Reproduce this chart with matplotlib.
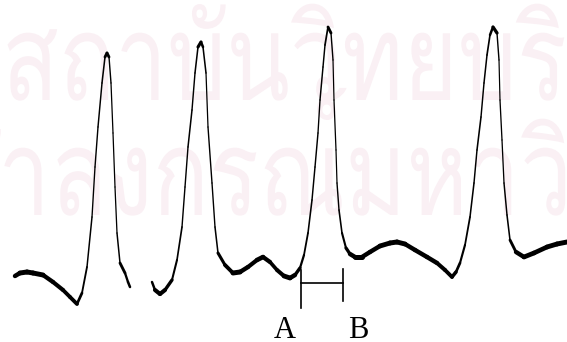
import numpy as np
import matplotlib.pyplot as plt
from matplotlib.collections import LineCollection
from matplotlib import font_manager
from matplotlib.font_manager import FontProperties
from matplotlib.ft2font import FT2Font
from matplotlib.textpath import TextPath
from matplotlib.patches import PathPatch
from matplotlib.transforms import Affine2D

# pulse trace, digitised in image pixels (x right, y down)
x1 = [15, 20, 27, 33, 43, 53, 63, 70, 77, 82, 87, 92, 95, 98, 102, 105, 107,
      109, 111, 113, 115, 117, 120, 125, 128, 130]
y1 = [276, 273, 272, 273, 275, 282, 290, 297, 304, 293, 267, 217, 167, 127, 83,
      57, 53, 57, 83, 133, 187, 233, 263, 273, 282, 287]

x2 = [152, 155, 160, 165, 172, 177, 182, 185, 188, 192, 195, 198, 201, 203, 206,
      208, 212, 215, 218, 225, 233, 240, 248, 257, 263, 270, 277, 284, 290, 295,
      300, 304, 308, 312, 315, 318, 320, 323, 325, 328, 331, 333, 334, 336, 337,
      339, 342, 346, 350, 355, 362, 370, 380, 390, 397, 405, 415, 427, 437, 445,
      452, 456, 460, 465, 470, 474, 477, 481, 484, 487, 490, 493, 497, 499, 500,
      502, 504, 507, 510, 516, 524, 534, 547, 557, 567]
y2 = [282, 290, 294, 290, 280, 260, 227, 187, 147, 110, 73, 47, 42, 47, 73,
      127, 183, 227, 253, 265, 273, 272, 267, 260, 257, 262, 270, 276, 278, 275,
      268, 255, 233, 200, 167, 133, 100, 67, 45, 27, 33, 60, 100, 150, 183,
      210, 233, 248, 254, 257, 257, 252, 246, 243, 242, 244, 250, 257, 263, 270,
      277, 272, 263, 245, 217, 183, 150, 117, 83, 55, 35, 27, 33, 60, 100,
      140, 183, 215, 240, 252, 257, 253, 247, 244, 242]

# interval A-B marker
a_x, b_x = 301, 343
bar_y = 283
labels = ["A", "B"]

wm_lines = ["สถาบันวิทยบริการ", "จุฬาลงกรณ์มหาวิทยาลัย"]


def thai_font():
    for f in font_manager.fontManager.ttflist:
        try:
            if 0x0E2A in FT2Font(f.fname).get_charmap():
                return f.name
        except Exception:
            pass
    return None


def trace(ax, xs, ys):
    # pen is tall, so steep strokes come out thin
    pts = np.column_stack([xs, ys]).astype(float)
    segs = np.stack([pts[:-1], pts[1:]], axis=1)
    d = pts[1:] - pts[:-1]
    cosang = np.abs(d[:, 0]) / np.hypot(d[:, 0], d[:, 1])
    lw = 0.8 + 2.8 * cosang
    lc = LineCollection(segs, linewidths=lw, colors="black", capstyle="round",
                        joinstyle="round")
    ax.add_collection(lc)


def watermark(ax, s, x0, base, fam, sx=93, sy=120):
    # narrow tall lettering, so scale the glyph outlines unevenly
    tp = TextPath((0, 0), s, size=1, prop=FontProperties(family=fam))
    tr = Affine2D().scale(sx, -sy).translate(x0, base)
    ax.add_patch(PathPatch(tr.transform_path(tp), fc="#faf0f4", ec="none",
                           zorder=0))


fig = plt.figure(figsize=(5.67, 3.42), dpi=100)
ax = fig.add_axes([0, 0, 1, 1])
ax.set_xlim(0, 567)
ax.set_ylim(342, 0)
ax.axis("off")

tf = thai_font()
if tf:
    watermark(ax, wm_lines[0], 2, 100, tf)
    watermark(ax, wm_lines[1], -120, 215, tf)

trace(ax, x1, y1)
trace(ax, x2, y2)

ax.plot([a_x, a_x], [270, 308], color="black", lw=1.2)
ax.plot([b_x, b_x], [269, 301], color="black", lw=1.2)
ax.plot([a_x, b_x], [bar_y, bar_y], color="black", lw=1.2)

ax.text(285, 338, labels[0], fontsize=22, family="Liberation Serif",
        ha="center", va="baseline")
ax.text(358, 338, labels[1], fontsize=22, family="Liberation Serif",
        ha="center", va="baseline")

fig.savefig("out.png", dpi=100)
